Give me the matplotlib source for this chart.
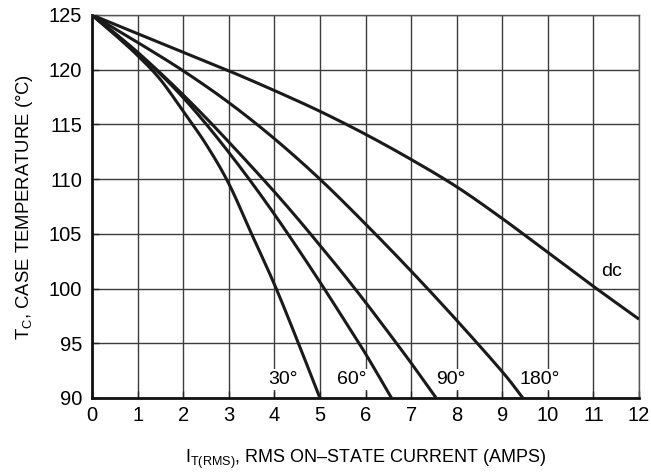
import matplotlib.pyplot as plt
import numpy as np

plt.rcParams['font.family'] = ['Liberation Sans', 'DejaVu Sans']
plt.rcParams['mathtext.fontset'] = 'custom'
plt.rcParams['mathtext.rm'] = 'Liberation Sans'

# curves: current (A) vs case temperature (C)
x30 = [0, 0.5, 1, 1.5, 2, 2.5, 3, 3.5, 4, 4.5, 5]
y30 = [125, 123.2, 121.3, 119.1, 116.2, 113.2, 109.6, 105.0, 100.4, 95.3, 90]
x60 = [0, 0.5, 1, 1.5, 2, 2.5, 3, 3.5, 4, 4.5, 5, 5.5, 6, 6.57]
y60 = [125, 123.3, 121.5, 119.6, 117.45, 115.05, 112.45, 109.7, 106.8, 103.75, 100.6, 97.35, 94.05, 90]
x90 = [0, 0.5, 1, 1.5, 2, 2.5, 3, 3.5, 4, 4.5, 5, 5.5, 6, 6.5, 7, 7.55]
y90 = [125, 123.35, 121.6, 119.7, 117.7, 115.6, 113.4, 111.15, 108.85, 106.45, 103.95, 101.4, 98.75, 96.0, 93.2, 90]
x180 = [0, 1, 2, 3, 4, 5, 6, 7, 8, 9, 9.45]
y180 = [125, 122.5, 119.9, 117.0, 113.7, 110, 105.9, 101.6, 97.1, 92.4, 90]
xdc = [0, 1, 2, 3, 4, 5, 6, 7, 8, 9, 10, 11, 12]
ydc = [125, 123.3, 121.6, 119.9, 118.1, 116.2, 114.1, 111.8, 109.3, 106.4, 103.3, 100.2, 97.2]

labels = ['30°', '60°', '90°', '180°', 'dc']
label_x = [4.2, 5.7, 7.87, 9.82, 11.4]
label_y = [91.7, 91.7, 91.7, 91.7, 101.6]

xticks = np.arange(0, 13, 1)
yticks = np.arange(90, 126, 5)


def smooth(xs, ys, n=20):
    # catmull-rom through the read points so the curve has no corners
    p = np.column_stack([xs, ys]).astype(float)
    p = np.vstack([p[0], p, p[-1]])
    out = []
    t = np.linspace(0, 1, n, endpoint=False)[:, None]
    for i in range(1, len(p) - 2):
        p0, p1, p2, p3 = p[i - 1], p[i], p[i + 1], p[i + 2]
        seg = 0.5 * ((2 * p1) + (-p0 + p2) * t + (2 * p0 - 5 * p1 + 4 * p2 - p3) * t ** 2
                     + (-p0 + 3 * p1 - 3 * p2 + p3) * t ** 3)
        out.append(seg)
    out.append(p[-2][None, :])
    out = np.vstack(out)
    return out[:, 0], out[:, 1]


fig = plt.figure(figsize=(6.51, 4.76), dpi=100)
ax = fig.add_axes([0.1413, 0.1639, 0.8403, 0.8046])

# grid drawn by hand so the label boxes can sit above it and below the ticks
for t in xticks:
    ax.axvline(t, color='#3c3c3c', lw=1.0, zorder=1)
for t in yticks:
    ax.axhline(t, color='#3c3c3c', lw=1.0, zorder=1)

for xs, ys in [(x30, y30), (x60, y60), (x90, y90), (x180, y180), (xdc, ydc)]:
    sx, sy = smooth(xs, ys)
    ax.plot(sx, sy, color='#1a1a1a', lw=2.2, solid_capstyle='butt', zorder=4)

for lab, lx, ly in zip(labels, label_x, label_y):
    ax.text(lx, ly, lab, fontsize=14, ha='center', va='center', zorder=2,
            bbox=dict(facecolor='white', edgecolor='none', pad=1.5))

ax.set_xlim(0, 12)
ax.set_ylim(90, 125)
ax.set_xticks(xticks)
ax.set_yticks(yticks)
ax.tick_params(direction='in', length=5, width=1, labelsize=14.5, pad=6, color='#222222')
ax.tick_params(axis='y', pad=7)

for s in ['top', 'right']:
    ax.spines[s].set_color('#555555')
    ax.spines[s].set_linewidth(1.0)
for s in ['left', 'bottom']:
    ax.spines[s].set_color('#111111')
    ax.spines[s].set_linewidth(2.0)

ax.set_xlabel(r'I$_{\mathregular{T(RMS)}}$, RMS ON–STATE CURRENT (AMPS)', fontsize=13, labelpad=16)
ax.set_ylabel(r'T$_{\mathregular{C}}$, CASE TEMPERATURE (°C)', fontsize=13.3, labelpad=10)

fig.savefig('out.png', dpi=100)
